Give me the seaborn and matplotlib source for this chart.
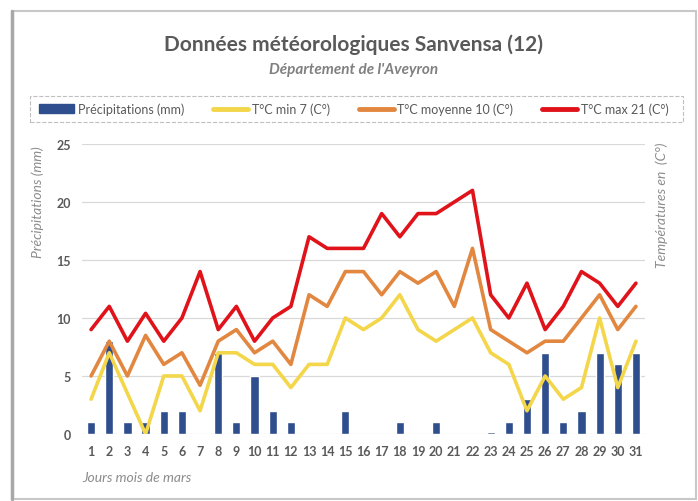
import matplotlib
matplotlib.use("Agg")
from matplotlib import pyplot as plt
from matplotlib.patches import Rectangle
from matplotlib.lines import Line2D
import seaborn as sns

# relevés de mars, jour par jour
days = list(range(1, 32))
precip = [1, 8, 1, 1, 2, 2, 0, 7, 1, 5, 2, 1, 0, 0, 2, 0,
          0, 1, 0, 1, 0, 0, 0.2, 1, 3, 7, 1, 2, 7, 6, 7]
t_min = [3, 7, 3.5, 0, 5, 5, 2, 7, 7, 6, 6, 4, 6, 6, 10, 9,
         10, 12, 9, 8, 9, 10, 7, 6, 2, 5, 3, 4, 10, 4, 8]
t_moy = [5, 8, 5, 8.5, 6, 7, 4.2, 8, 9, 7, 8, 6, 12, 11, 14, 14,
         12, 14, 13, 14, 11, 16, 9, 8, 7, 8, 8, 10, 12, 9, 11]
t_max = [9, 11, 8, 10.4, 8, 10, 14, 9, 11, 8, 10, 11, 17, 16, 16, 16,
         19, 17, 19, 19, 20, 21, 12, 10, 13, 9, 11, 14, 13, 11, 13]

bar_label = "Précipitations (mm)"
line_labels = ["T°C min 7 (C°)", "T°C moyenne 10 (C°)", "T°C max 21 (C°)"]
line_colors = ["#F3D64A", "#E2873F", "#E0121A"]
yticks = [0, 5, 10, 15, 20, 25]

grey = "#595959"

sns.set_style("white")
plt.rcParams['font.family'] = ['Lato', 'DejaVu Sans']

fig = plt.figure(figsize=(6.98, 5.02), dpi=100)
ax = fig.add_axes([0.1175, 0.1335, 0.8066, 0.5777])

sns.barplot(x=days, y=precip, native_scale=True, width=0.45, color="#2E4E8E",
            saturation=1, label=bar_label, ax=ax, zorder=2)
for vals, lab, col in zip([t_min, t_moy, t_max], line_labels, line_colors):
    sns.lineplot(x=days, y=vals, color=col, lw=2.6, label=lab, ax=ax, zorder=3)

if ax.get_legend() is not None:
    ax.get_legend().remove()

ax.set_xlim(0.5, 31.5)
ax.set_ylim(0, 25)
ax.set_xticks(days)
ax.set_yticks(yticks)
ax.tick_params(length=0, labelsize=9, labelcolor=grey, pad=8)
for t in ax.get_xticklabels() + ax.get_yticklabels():
    t.set_fontweight("bold")
ax.yaxis.grid(True, color="#D9D9D9", lw=0.9)
ax.set_axisbelow(True)
sns.despine(ax=ax, left=True, bottom=True)
ax.set_xlabel("")
ax.set_ylabel("")

# titres
fig.text(0.507, 0.910, "Données météorologiques Sanvensa (12)", ha="center", va="center",
         fontsize=15, fontweight="bold", color=grey)
fig.text(0.507, 0.861, "Département de l'Aveyron", ha="center", va="center",
         fontsize=11, fontweight="bold", style="italic", color="#808080")
fig.text(0.054, 0.598, "Précipitations (mm)", rotation=90, ha="center", va="center",
         fontsize=10, style="italic", color="#8C8C8C")
fig.text(0.948, 0.592, "Températures en  (C°)", rotation=90, ha="center", va="center",
         fontsize=10, style="italic", color="#8C8C8C")
fig.text(0.1175, 0.048, "Jours mois de mars", ha="left", va="center",
         fontsize=10, style="italic", color="#8C8C8C")

# légende dans un cadre pointillé, barres d'abord
bar_handle = Rectangle((0, 0), 1, 0.6, color="#2E4E8E")
line_handles = [Line2D([], [], color=c, lw=3.5) for c in line_colors]
leg = fig.legend([bar_handle] + line_handles, [bar_label] + line_labels,
                 loc="center", bbox_to_anchor=(0.507, 0.781), ncol=4,
                 frameon=False, fontsize=9, handlelength=2.8, handletextpad=0.3,
                 columnspacing=2.3, labelcolor=grey)
fig.patches.append(Rectangle((0.043, 0.755), 0.9355, 0.0518, transform=fig.transFigure,
                             fill=False, ls="--", lw=0.8, ec="#BFBFBF"))
# cadre du graphique
fig.patches.append(Rectangle((0.017, 0.004), 0.98, 0.972, transform=fig.transFigure,
                             fill=False, lw=1.5, ec="#C8C8C8"))
fig.lines.append(Line2D([0.017, 0.017], [0.004, 0.976], transform=fig.transFigure,
                        lw=2.5, color="#A8A8A8"))

plt.savefig("out.png", dpi=100)
